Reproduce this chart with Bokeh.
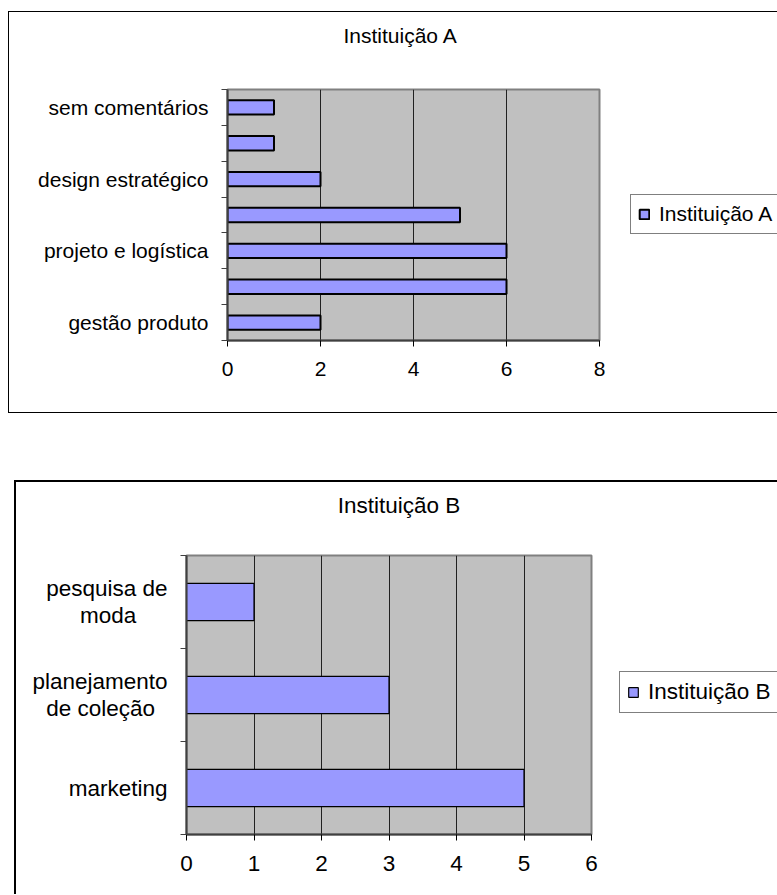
from bokeh.plotting import figure
from bokeh.models import (Range1d, FixedTicker, Legend, LegendItem, ColumnDataSource,
                          LinearAxis)
from bokeh.layouts import column
from bokeh.embed import file_html
from bokeh.resources import INLINE

FONT = "Liberation Sans"
BAR_FILL = "#9999FF"
PLOT_BG = "#C0C0C0"

# Instituição A (bottom to top)
cats_a = ["gestão produto", "", "projeto e logística", "", "design estratégico", "", "sem comentários"]
vals_a = [2, 6, 6, 5, 2, 1, 1]
xticks_a = [0, 2, 4, 6, 8]
title_a = "Instituição A"

# Instituição B (bottom to top)
cats_b = ["marketing", "planejamento\nde coleção", "pesquisa de\nmoda"]
vals_b = [5, 3, 1]
xticks_b = [0, 1, 2, 3, 4, 5, 6]
title_b = "Instituição B"

# approximate Arial advance widths (1/1000 em) used to centre wrapped labels
_W = {"a": 556, "b": 556, "c": 500, "d": 556, "e": 556, "f": 278, "g": 556, "h": 556,
      "i": 222, "j": 222, "k": 500, "l": 222, "m": 833, "n": 556, "o": 556, "p": 556,
      "q": 556, "r": 333, "s": 500, "t": 278, "u": 556, "v": 500, "w": 722, "x": 500,
      "y": 500, "z": 500, " ": 278, "ç": 500, "ã": 556, "é": 556, "á": 556, "í": 278}
NBSP = "\u00a0"


def label_lines(label):
    """Split a wrapped label into lines, padding short lines so they sit centred."""
    lines = label.split("\n")
    widths = [sum(_W.get(ch, 556) for ch in ln) for ln in lines]
    wmax = max(widths)
    return [ln + NBSP * round((wmax - w) / 2 / 278) for ln, w in zip(lines, widths)]


def make_chart(cats, vals, xticks, title, frame_w, frame_h, borders, title_pos,
               title_gap, font_px, line_step, legend_loc, bar_lw, box_css, margin):
    n = len(cats)
    ys = list(range(1, n + 1))
    src = ColumnDataSource(dict(y=ys, v=vals))
    left, right, top, bottom = borders
    fs = f"{font_px}px"
    p = figure(frame_width=frame_w, frame_height=frame_h, output_backend="svg",
               toolbar_location=None, title=None,
               x_range=Range1d(xticks[0], xticks[-1]), y_range=Range1d(0.5, n + 0.5),
               min_border_left=left, min_border_right=right,
               min_border_top=top, min_border_bottom=bottom,
               background_fill_color=PLOT_BG, border_fill_color="white",
               outline_line_color="#808080", outline_line_width=2)
    p.frame_align = False
    p.styles = box_css
    p.margin = margin

    r = p.hbar(y="y", right="v", left=0, height=0.4, source=src,
               fill_color=BAR_FILL, line_color="black", line_width=bar_lw)

    # x axis
    xa = p.xaxis[0]
    xa.ticker = FixedTicker(ticks=xticks)
    xa.axis_line_color = "#404040"
    xa.axis_line_width = 2
    xa.major_tick_out = 6
    xa.major_tick_in = 0
    xa.major_tick_line_color = "black"
    xa.minor_tick_out = 0
    xa.major_label_standoff = 15
    xa.major_label_text_font = FONT
    xa.major_label_text_font_size = fs
    xa.major_label_text_color = "black"

    # y axis: one label per text line around each bar centre,
    # tick marks between categories
    label_ticks, overrides = [], {}
    for y, c in zip(ys, cats):
        if not c:
            continue
        lines = label_lines(c)
        k = len(lines)
        for i, ln in enumerate(lines):
            t = round(y + ((k - 1) / 2 - i) * line_step, 4)
            label_ticks.append(t)
            overrides[t] = ln
    ya = p.yaxis[0]
    ya.ticker = FixedTicker(ticks=label_ticks, minor_ticks=[y - 0.5 for y in ys] + [n + 0.5])
    ya.major_label_overrides = overrides
    ya.axis_line_color = "#404040"
    ya.axis_line_width = 2
    ya.major_tick_out = 0
    ya.major_tick_in = 0
    ya.minor_tick_out = 6
    ya.minor_tick_in = 0
    ya.minor_tick_line_color = "#404040"
    ya.major_label_standoff = 13
    ya.major_label_text_font = FONT
    ya.major_label_text_font_size = fs
    ya.major_label_text_color = "black"

    p.ygrid.visible = False
    p.xgrid.ticker = FixedTicker(ticks=xticks[1:-1])
    p.xgrid.grid_line_color = "#202020"
    p.xgrid.grid_line_width = 1

    # chart title, set as the single label of a bare axis above the plot area
    # (its own 0..1 range spans the plot width; title_pos is the title centre)
    p.extra_x_ranges = {"title": Range1d(0, 1)}
    head = LinearAxis(x_range_name="title", ticker=FixedTicker(ticks=[title_pos]),
                      major_label_overrides={title_pos: title},
                      axis_line_color=None, major_tick_line_color=None,
                      minor_tick_line_color=None, major_tick_out=0, major_tick_in=0,
                      minor_tick_out=0, minor_tick_in=0, major_label_standoff=title_gap,
                      major_label_text_font=FONT, major_label_text_font_size=fs,
                      major_label_text_color="black")
    p.add_layout(head, "above")

    legend = Legend(items=[LegendItem(label=title, renderers=[r])], location=legend_loc,
                    glyph_width=12, glyph_height=12, label_standoff=9, padding=7,
                    margin=0, spacing=0, border_line_color="black", border_line_width=1,
                    background_fill_color="white", background_fill_alpha=1,
                    label_text_font=FONT, label_text_font_size=fs,
                    label_text_color="black")
    p.add_layout(legend, "right")
    return p


pa = make_chart(cats_a, vals_a, xticks_a, title_a, frame_w=371, frame_h=249,
                borders=(218, 179, 77, 74), title_pos=0.4655, title_gap=43, font_px=21,
                line_step=0.0, legend_loc=(31, 106), bar_lw=2,
                box_css={"border-left": "1px solid black", "border-top": "1px solid black",
                         "border-bottom": "1px solid black"},
                margin=(11, 0, 0, 8))

pb = make_chart(cats_b, vals_b, xticks_b, title_b, frame_w=403, frame_h=277,
                borders=(170, 188, 73, 62), title_pos=0.5248, title_gap=38, font_px=22.5,
                line_step=0.30, legend_loc=(28, 121), bar_lw=1.2,
                box_css={"border-left": "2px solid black", "border-top": "2px solid black"},
                margin=(67, 0, 0, 14))

layout = column(pa, pb)
open("out.html", "w").write(file_html(layout, INLINE))
